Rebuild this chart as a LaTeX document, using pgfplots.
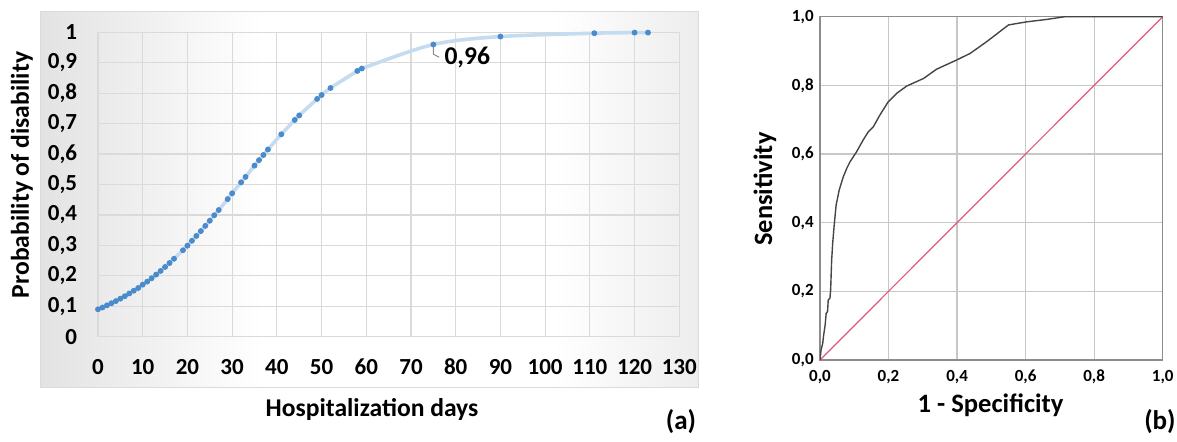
\documentclass[border=0pt]{standalone}
\usepackage{fontspec}
\setmainfont{Carlito}
\usepackage{pgfplots}
\pgfplotsset{compat=1.18}
\definecolor{gridgray}{HTML}{DADADA}
\definecolor{dotblue}{HTML}{4A8BCB}
\definecolor{lineblue}{HTML}{C5DCF0}
\definecolor{rocgray}{HTML}{454545}
\definecolor{refpink}{HTML}{E25A7A}
\definecolor{framegray}{HTML}{8C8C8C}
\pgfdeclarehorizontalshading{panelbg}{100bp}{color(0bp)=(black!11); color(25bp)=(black!11); color(42bp)=(white); color(64bp)=(white); color(75bp)=(black!7); color(100bp)=(black!7)}

% (a) predicted probability by hospitalization day
\pgfplotstableread{
day prob
0 0.090
1 0.096
2 0.103
3 0.110
4 0.117
5 0.125
6 0.133
7 0.142
8 0.151
9 0.160
10 0.171
11 0.181
12 0.192
13 0.204
14 0.216
15 0.229
16 0.242
17 0.256
19 0.284
20 0.299
21 0.315
22 0.331
23 0.347
24 0.364
25 0.381
26 0.399
27 0.416
29 0.452
30 0.471
32 0.507
33 0.525
35 0.562
36 0.580
37 0.597
38 0.615
41 0.665
44 0.712
45 0.727
49 0.781
50 0.794
52 0.817
58 0.873
59 0.881
75 0.960
90 0.986
111 0.997
120 0.999
123 0.999
}\probtable

% (b) ROC curve
\pgfplotstableread{
fpr tpr
0.000 0.000
0.003 0.029
0.008 0.049
0.010 0.068
0.015 0.102
0.018 0.136
0.022 0.141
0.024 0.175
0.029 0.180
0.031 0.204
0.034 0.291
0.037 0.340
0.041 0.388
0.047 0.451
0.056 0.495
0.068 0.534
0.078 0.558
0.088 0.578
0.107 0.607
0.126 0.641
0.141 0.665
0.156 0.680
0.175 0.714
0.199 0.752
0.224 0.777
0.253 0.798
0.302 0.820
0.340 0.847
0.399 0.874
0.438 0.893
0.486 0.927
0.550 0.976
0.603 0.985
0.661 0.992
0.715 1.000
1.000 1.000
}\roctable

\begin{document}
\begin{tikzpicture}
\path[use as bounding box] (0,0) rectangle (588.5pt,-221pt);
\shade[shading=panelbg] (20pt,-6pt) rectangle (349pt,-194pt);
\draw[black!14, line width=0.5pt] (20pt,-6pt) rectangle (349pt,-194pt);

\begin{axis}[
  scale only axis, width=290.65pt, height=152.2pt,
  anchor=south west, at={(49pt,-168.35pt)},
  xmin=0, xmax=130, ymin=0, ymax=1,
  xtick={0,10,20,30,40,50,60,70,80,90,100,110,120,130},
  ytick={0,0.1,0.2,0.3,0.4,0.5,0.6,0.7,0.8,0.9,1},
  axis line style={draw=none}, tick style={draw=none},
  grid=major, major grid style={gridgray, line width=0.6pt},
  clip=false,
  /pgf/number format/use comma, /pgf/number format/assume math mode=true,
  xticklabel style={anchor=center, yshift=-15pt, font=\bfseries\fontsize{11.5}{13}\selectfont},
  yticklabel style={anchor=east, inner sep=0pt, xshift=-10.25pt, font=\bfseries\fontsize{11.5}{13}\selectfont},
]
\addplot[lineblue, line width=1.8pt, smooth] table[x=day, y=prob] {\probtable};
\addplot[only marks, mark=*, mark size=1.25pt, dotblue, mark options={draw=dotblue, fill=dotblue}] table[x=day, y=prob] {\probtable};
\draw[black!45, line width=0.5pt] (axis cs:75,0.955) -- (axis cs:75,0.928) -- (axis cs:76.3,0.918);
\node[anchor=west, inner sep=0pt, font=\bfseries\fontsize{12.8}{14}\selectfont] at (axis cs:77.4,0.917) {0,96};
\end{axis}

\node[rotate=90, font=\bfseries\fontsize{12.8}{14}\selectfont] at (11pt,-87.5pt) {Probability of disability};
\node[font=\bfseries\fontsize{12.8}{14}\selectfont] at (186pt,-205pt) {Hospitalization days};
\node[font=\bfseries\fontsize{13.5}{15}\selectfont] at (340.5pt,-211pt) {(a)};

\begin{axis}[
  scale only axis, width=171.35pt, height=171.65pt,
  anchor=south west, at={(410pt,-180pt)},
  xmin=0, xmax=1, ymin=0, ymax=1,
  xtick={0,0.2,0.4,0.6,0.8,1}, ytick={0,0.2,0.4,0.6,0.8,1},
  axis line style={framegray, line width=0.7pt}, tick style={draw=none},
  grid=major, major grid style={black!22, line width=0.6pt},
  /pgf/number format/use comma, /pgf/number format/fixed,
  /pgf/number format/fixed zerofill, /pgf/number format/precision=1,
  /pgf/number format/assume math mode=true,
  xticklabel style={anchor=center, yshift=-8.3pt, font=\bfseries\fontsize{8.5}{10}\selectfont},
  yticklabel style={anchor=east, inner sep=0pt, xshift=-3pt, font=\bfseries\fontsize{8.5}{10}\selectfont},
]
\addplot[refpink, line width=0.6pt] coordinates {(0,0) (1,1)};
\addplot[rocgray, line width=0.7pt] table[x=fpr, y=tpr] {\roctable};
\end{axis}

\node[rotate=90, font=\bfseries\fontsize{13.2}{15}\selectfont] at (382.5pt,-94.5pt) {Sensitivity};
\node[font=\bfseries\fontsize{13.3}{15}\selectfont] at (495.3pt,-202.5pt) {1 - Specificity};
\node[font=\bfseries\fontsize{13.5}{15}\selectfont, anchor=east, inner sep=0pt] at (588pt,-211pt) {(b)};
\end{tikzpicture}
\end{document}
